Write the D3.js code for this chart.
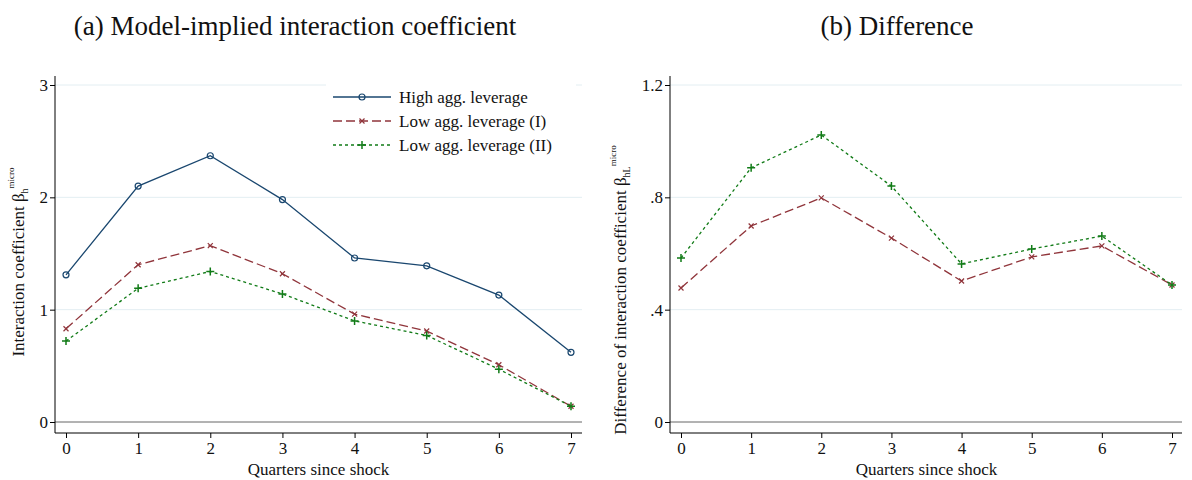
<!DOCTYPE html>
<html>
<head>
<meta charset="utf-8">
<script src="https://cdn.jsdelivr.net/npm/d3@7"></script>
<style>
body { margin: 0; background: #fff; }
</style>
</head>
<body>
<svg id="chart" width="1192" height="480"></svg>
<script>
var quarters = [0, 1, 2, 3, 4, 5, 6, 7];
var highLev = [1.31, 2.10, 2.37, 1.98, 1.46, 1.39, 1.13, 0.62];
var lowLevI = [0.83, 1.40, 1.57, 1.32, 0.96, 0.81, 0.51, 0.14];
var lowLevII = [0.72, 1.19, 1.34, 1.14, 0.90, 0.77, 0.47, 0.14];
var diffI = [0.477, 0.698, 0.798, 0.655, 0.502, 0.588, 0.627, 0.488];
var diffII = [0.584, 0.905, 1.022, 0.840, 0.563, 0.616, 0.662, 0.488];
var leftTicks = [0, 1, 2, 3];
var rightTicks = [0, 0.4, 0.8, 1.2];
var rightTickLabels = ["0", ".4", ".8", "1.2"];

var blue = "#1a476f", red = "#90353b", green = "#117b17";
var FONT = "'Liberation Serif', 'DejaVu Serif', serif";
var svg = d3.select("#chart").style("font-family", FONT);

function panel(opt) {
  var g = svg.append("g");
  var x = d3.scaleLinear().domain([0, 7]).range([opt.x0, opt.x1]);
  var y = d3.scaleLinear().domain([0, opt.ymax]).range([422, 85]);

  // gridlines
  g.selectAll(".grid").data(opt.ticks.slice(1)).enter().append("line")
    .attr("x1", opt.axisX).attr("x2", opt.right)
    .attr("y1", d => y(d)).attr("y2", d => y(d))
    .attr("stroke", "#e3eef2").attr("stroke-width", 1);
  g.append("line").attr("x1", opt.axisX).attr("x2", opt.right)
    .attr("y1", y(0)).attr("y2", y(0)).attr("stroke", "#666").attr("stroke-width", 1);

  var yAxis = d3.axisLeft(y).tickValues(opt.ticks).tickSize(5)
    .tickFormat((d, i) => opt.labels[i]);
  var ya = g.append("g").attr("transform", `translate(${opt.axisX},0)`).call(yAxis);
  ya.attr("font-family", null);
  ya.select(".domain").attr("d", `M0,76V433`);
  ya.selectAll("text").style("font-family", FONT).attr("font-size", 17).attr("fill", "#111").attr("x", -7);

  var xAxis = d3.axisBottom(x).tickValues(quarters).tickSize(5).tickFormat(d3.format("d"));
  var xa = g.append("g").attr("transform", "translate(0,433)").call(xAxis);
  xa.attr("font-family", null);
  xa.select(".domain").attr("d", `M${opt.axisX},0H${opt.right}`);
  xa.selectAll("text").style("font-family", FONT).attr("font-size", 17).attr("fill", "#111").attr("y", 9);

  g.append("text").attr("x", (opt.x0 + opt.x1) / 2).attr("y", 475).style("font-family", FONT)
    .attr("text-anchor", "middle").attr("font-size", 17).attr("fill", "#111").text("Quarters since shock");

  var yl = g.append("text").attr("transform", `translate(${opt.axisX - opt.ylabOff},${opt.ylabY}) rotate(-90)`)
    .attr("text-anchor", "middle").attr("font-size", 17).style("font-family", FONT).attr("fill", "#111");
  yl.append("tspan").text(opt.ylab + " β");
  yl.append("tspan").attr("font-size", 10).attr("dy", 4).text(opt.sub);
  yl.append("tspan").attr("font-size", 9).attr("dy", -14).text("micro");

  g.append("text").attr("x", opt.titleX).attr("y", 35).attr("text-anchor", "middle")
    .style("font-family", FONT).attr("font-size", 27).attr("fill", "#111").text(opt.title);

  var line = d3.line().x((d, i) => x(quarters[i])).y(d => y(d));
  opt.series.forEach(function(s) {
    g.append("path").datum(s.values).attr("d", line).attr("fill", "none")
      .attr("stroke", s.color).attr("stroke-width", 1.3).attr("stroke-dasharray", s.dash);
    drawMarkers(g, s, s.values.map((v, i) => [x(quarters[i]), y(v)]));
  });
  return g;
}

function drawMarkers(g, s, pts) {
  pts.forEach(function(p) {
    if (s.marker === "o") {
      g.append("circle").attr("cx", p[0]).attr("cy", p[1]).attr("r", 3)
        .attr("fill", "none").attr("stroke", s.color).attr("stroke-width", 1.2);
    } else if (s.marker === "x") {
      g.append("path").attr("d", `M${p[0]-2.5},${p[1]-2.5}L${p[0]+2.5},${p[1]+2.5}M${p[0]-2.5},${p[1]+2.5}L${p[0]+2.5},${p[1]-2.5}`)
        .attr("stroke", s.color).attr("stroke-width", 1.2);
    } else {
      g.append("path").attr("d", `M${p[0]-4},${p[1]}H${p[0]+4}M${p[0]},${p[1]-4}V${p[1]+4}`)
        .attr("stroke", s.color).attr("stroke-width", 1.5);
    }
  });
}

var sHigh = { values: highLev, color: blue, dash: null, marker: "o", name: "High agg. leverage" };
var sI = { values: lowLevI, color: red, dash: "9,4", marker: "x", name: "Low agg. leverage (I)" };
var sII = { values: lowLevII, color: green, dash: "3,3", marker: "+", name: "Low agg. leverage (II)" };

var left = panel({ x0: 66, x1: 571, axisX: 55, right: 582, ymax: 3, ticks: leftTicks,
  labels: leftTicks.map(String), ylab: "Interaction coefficient", sub: "h", ylabY: 262, ylabOff: 31,
  title: "(a) Model-implied interaction coefficient", titleX: 295,
  series: [sHigh, sI, sII] });

// legend
var lg = left.append("g");
lg.append("rect").attr("x", 326).attr("y", 84).attr("width", 250).attr("height", 78).attr("fill", "#fff");
[sHigh, sI, sII].forEach(function(s, i) {
  var yy = 97 + i * 24;
  lg.append("line").attr("x1", 333).attr("x2", 391).attr("y1", yy).attr("y2", yy)
    .attr("stroke", s.color).attr("stroke-width", 1.3).attr("stroke-dasharray", s.dash);
  drawMarkers(lg, s, [[362, yy]]);
  lg.append("text").attr("x", 399).attr("y", yy + 6).attr("font-size", 17)
    .style("font-family", FONT).attr("fill", "#111").text(s.name);
});

panel({ x0: 681, x1: 1172, axisX: 670, right: 1182, ymax: 1.2, ticks: rightTicks,
  labels: rightTickLabels, ylab: "Difference of interaction coefficient", sub: "hL", ylabY: 290, ylabOff: 44,
  title: "(b) Difference", titleX: 897,
  series: [
    { values: diffI, color: red, dash: "9,4", marker: "x" },
    { values: diffII, color: green, dash: "3,3", marker: "+" }
  ] });
</script>
</body>
</html>
